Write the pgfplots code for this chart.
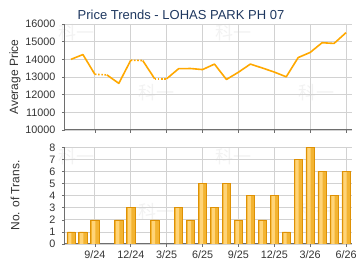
\documentclass[border=0pt]{standalone}
\usepackage{pgfplots}
\usepackage{pgfplotstable}
\pgfplotsset{compat=1.18}
\usepackage{fontspec}
\setmainfont{Liberation Sans}
\newfontfamily\cjk{Noto Sans CJK SC}
\definecolor{lineor}{RGB}{255,168,0}
\definecolor{barlight}{RGB}{255,212,120}
\definecolor{barmid}{RGB}{243,180,50}
\definecolor{baredge}{RGB}{222,145,5}
\definecolor{gridc}{RGB}{210,210,210}
\definecolor{axc}{RGB}{110,110,110}
\definecolor{titlec}{RGB}{30,55,95}
\definecolor{wm}{RGB}{242,242,242}
\pgfplotstableread{
x y
0 1
1 1
2 2
4 2
5 3
7 2
9 3
10 2
11 5
12 3
13 5
14 2
15 4
16 2
17 4
18 1
19 7
20 8
21 6
22 4
23 6
}\trans
\begin{document}
\begin{tikzpicture}
\useasboundingbox (0pt,0pt) rectangle (360pt,-270pt);
% watermarks
\foreach \p in {(77pt,-33pt),(233pt,-33pt),(157pt,-93pt),(317pt,-93pt),(77pt,-157pt),(233pt,-157pt),(157pt,-212pt),(317pt,-212pt)}{
  \node[text=wm,font=\cjk\fontsize{18}{18}\selectfont] at \p {科一};
}
\node[text=titlec,font=\fontsize{13}{15}\selectfont] at (181pt,-15pt) {Price Trends - LOHAS PARK PH 07};
\pgfplotsset{
  mystyle/.style={
    scale only axis,
    width=287pt,
    xmin=-0.5, xmax=23.5,
    axis x line*=bottom, axis y line*=left,
    axis line style={draw=axc,line width=1pt,-},
    grid=major,
    grid style={draw=gridc,line width=0.8pt},
    tick align=outside,
    major tick length=3pt,
    tick style={draw=axc,line width=0.6pt},
    xtick={2,5,8,11,14,17,20,23},
    scaled y ticks=false,
    /pgf/number format/assume math mode=true,
    /pgf/number format/1000 sep={},
    tick label style={font=\fontsize{10.8}{12}\selectfont,text=black!80},
    yticklabel style={xshift=-3pt},
    every axis y label/.style={at={(rel axis cs:-0.174,0.5)},rotate=90,anchor=center,font=\fontsize{12}{14}\selectfont,text=black!80},
  }
}
\begin{axis}[mystyle,
  at={(65pt,-130pt)}, anchor=south west,
  height=106pt,
  ymin=10000, ymax=16000,
  ytick={10000,11000,12000,13000,14000,15000,16000},
  yticklabels={10000,11000,12000,13000,14000,15000,16000},
  xticklabels={},
  ylabel={Average Price},
]
\addplot[lineor,line width=1.6pt,line join=round] coordinates {
(0,14000) (1,14270) (2,13150)
};
\addplot[lineor,line width=1.6pt,line join=round] coordinates {
(3,13120) (4,12640) (5,13950)
};
\addplot[lineor,line width=1.6pt,line join=round] coordinates {
(6,13930) (7,12900)
};
\addplot[lineor,line width=1.6pt,line join=round] coordinates {
(8,12900) (9,13470) (10,13480) (11,13420) (12,13730) (13,12860) (14,13270) (15,13730) (16,13510) (17,13280) (18,13010) (19,14100) (20,14390) (21,14940) (22,14900) (23,15510)
};
\addplot[lineor,line width=1.6pt,dash pattern=on 1.6pt off 1.6pt] coordinates {(2,13150) (3,13120)};
\addplot[lineor,line width=1.6pt,dash pattern=on 1.6pt off 1.6pt] coordinates {(5,13950) (6,13930)};
\addplot[lineor,line width=1.6pt,dash pattern=on 1.6pt off 1.6pt] coordinates {(7,12900) (8,12900)};
\end{axis}
\begin{axis}[mystyle,
  at={(65pt,-244pt)}, anchor=south west,
  height=96.7pt,
  ymin=0, ymax=8,
  ytick={0,1,2,3,4,5,6,7,8},
  xticklabels={9/24,12/24,3/25,6/25,9/25,12/25,3/26,6/26},
  ylabel={No. of Trans.},
]
\addplot[ybar,bar width=8.3pt,draw=none,fill=barmid] table[x=x,y=y] {\trans};
\addplot[ybar,bar width=3.2pt,bar shift=-1.1pt,draw=none,fill=barlight] table[x=x,y=y] {\trans};
\addplot[ybar,bar width=8.3pt,draw=baredge,line width=0.6pt,fill=none] table[x=x,y=y] {\trans};
\end{axis}
\end{tikzpicture}
\end{document}
